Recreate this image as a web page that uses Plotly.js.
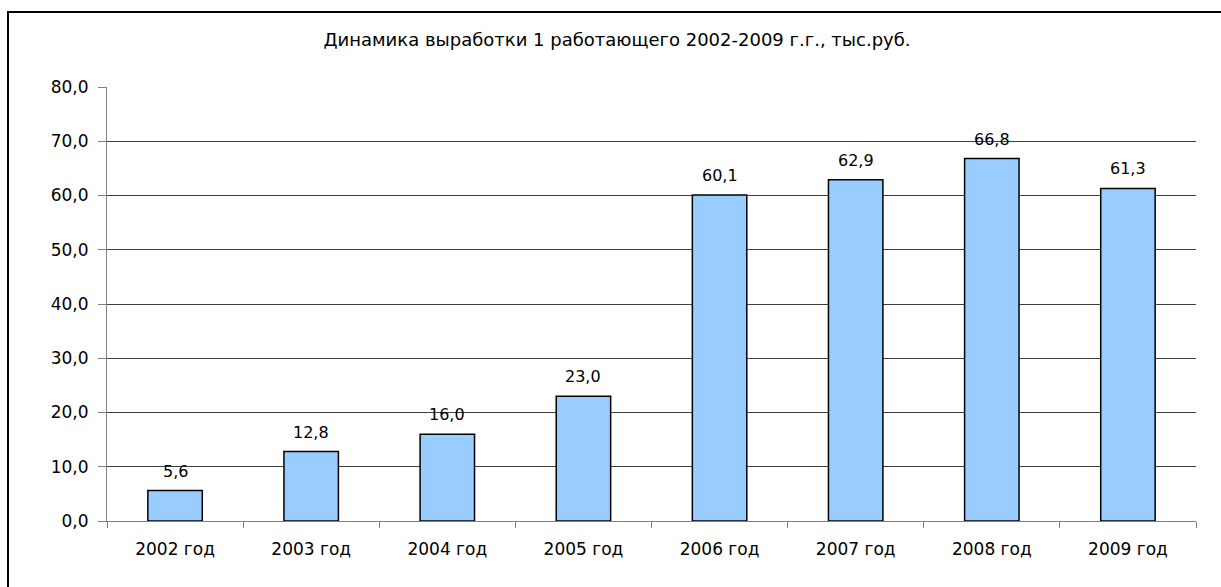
<!DOCTYPE html>
<html>
<head>
<meta charset="utf-8">
<script src="https://cdn.plot.ly/plotly-3.0.1.min.js"></script>
<style>
  html, body { margin: 0; padding: 0; background: #fff; overflow: hidden; width: 1221px; height: 587px; }
  #chart { width: 1221px; height: 587px; position: absolute; left: 0; top: 0; }
  #frame { position: absolute; left: 7px; top: 11px; width: 1230px; height: 600px;
           border-left: 2px solid #000; border-top: 2px solid #000; pointer-events: none; }
</style>
</head>
<body>
<div id="chart"></div>
<div id="frame"></div>
<script>
const categories = ["2002 год", "2003 год", "2004 год", "2005 год", "2006 год", "2007 год", "2008 год", "2009 год"];
const values = [5.6, 12.8, 16.0, 23.0, 60.1, 62.9, 66.8, 61.3];
const yTicks = [0, 10, 20, 30, 40, 50, 60, 70, 80];
const titleText = "Динамика выработки 1 работающего 2002-2009 г.г., тыс.руб.";

const fmt = v => v.toFixed(1).replace(".", ",");

const trace = {
  type: "bar",
  x: categories,
  y: values,
  marker: { color: "#99CCFF", line: { color: "#000000", width: 1.5 } },
  hoverinfo: "none"
};

const annotations = categories.map((c, i) => ({
  x: c, y: values[i], xref: "x", yref: "y",
  text: fmt(values[i]), showarrow: false,
  yanchor: "bottom", yshift: 8,
  font: { family: "DejaVu Sans", size: 16, color: "#000" }
}));

const layout = {
  width: 1221, height: 587,
  margin: { l: 107, r: 25, t: 87, b: 66 },
  paper_bgcolor: "#fff", plot_bgcolor: "#fff",
  showlegend: false,
  bargap: 0.6,
  title: {
    text: titleText,
    x: 617 / 1221, xanchor: "center", xref: "container",
    y: 1 - 40 / 587, yanchor: "middle", yref: "container",
    font: { family: "DejaVu Sans", size: 18, color: "#000" }
  },
  xaxis: {
    type: "category",
    showgrid: false, zeroline: false,
    showline: true, linecolor: "#808080", linewidth: 1,
    ticks: "outside", tickson: "boundaries", ticklen: 6, tickcolor: "#808080",
    ticklabelstandoff: 13,
    tickfont: { family: "DejaVu Sans", size: 17, color: "#000" },
    automargin: false
  },
  yaxis: {
    range: [0, 80],
    tickvals: yTicks,
    ticktext: yTicks.map(fmt),
    showgrid: true, gridcolor: "#404040", gridwidth: 1,
    zeroline: false,
    showline: true, linecolor: "#808080", linewidth: 1,
    ticks: "outside", ticklen: 8, tickcolor: "#808080",
    ticklabelstandoff: 6,
    tickfont: { family: "DejaVu Sans", size: 17, color: "#000" },
    automargin: false
  },
  annotations: annotations
};

Plotly.newPlot("chart", [trace], layout, { staticPlot: true, displayModeBar: false });
</script>
</body>
</html>
